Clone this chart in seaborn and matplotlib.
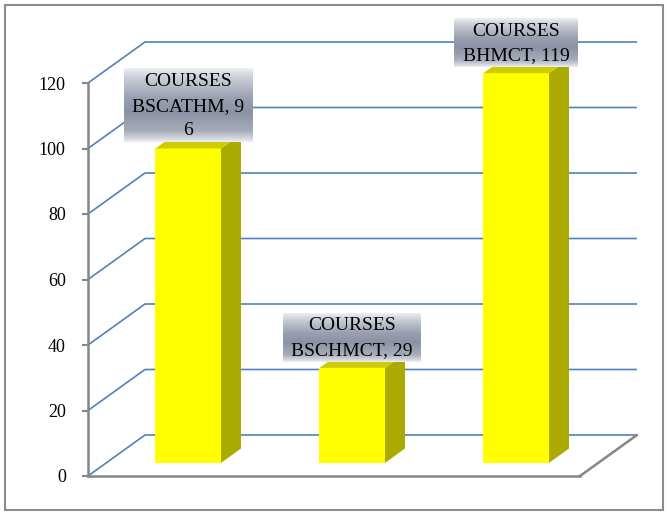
import numpy as np
import matplotlib
matplotlib.use("Agg")
import matplotlib.pyplot as plt
from matplotlib.patches import Polygon, Rectangle
from matplotlib.transforms import Affine2D
from matplotlib.colors import LinearSegmentedColormap
import seaborn as sns

# ---- data ----
categories = ["COURSES BSCATHM", "COURSES BSCHMCT", "COURSES BHMCT"]
values = [96, 29, 119]
yticks = [0, 20, 40, 60, 80, 100, 120]
# character position at which the second label line wraps (None = no wrap)
wrap_at = [10, None, None]

sns.set_theme(style="white")
plt.rcParams["font.family"] = ["Liberation Serif", "DejaVu Serif"]

W, H, DPI = 667, 513, 100
fig = plt.figure(figsize=(W / DPI, H / DPI), dpi=DPI)
fig.patch.set_facecolor("white")

# front plane of the 3-D box
left_px, right_px, bot_px, top_px = 88, 580, 476, 83
ax = fig.add_axes([left_px / W, 1 - bot_px / H,
                   (right_px - left_px) / W, (bot_px - top_px) / H])
ax.set_facecolor("none")

XMIN, XMAX, YMIN, YMAX = -0.5, 2.5, 0, 120
px_x = (right_px - left_px) / (XMAX - XMIN)   # pixels per x unit
px_y = (bot_px - top_px) / (YMAX - YMIN)      # pixels per y unit
DX = 57 / px_x                                # full depth vector (data units)
DY = 41 / px_y
F0 = 0.32                                     # bar front position in depth
DEPTH = 0.35                                  # bar depth fraction
BAR_W = 0.4

grid_c = "#4f81bd"
axis_c = "#868686"

# gridlines: left wall diagonals + back wall
for v in yticks:
    ax.plot([XMIN, XMIN + DX, XMAX + DX], [v, v + DY, v + DY],
            color=grid_c, lw=1.2, zorder=0.5, clip_on=False,
            solid_capstyle="butt")
# floor edge on the right
ax.plot([XMAX, XMAX + DX], [0, DY], color=axis_c, lw=1.8, zorder=0.6,
        clip_on=False)

# bars (front faces) through seaborn
sns.barplot(x=categories, y=values, color="#ffff00", saturation=1,
            width=BAR_W, linewidth=0, ax=ax, zorder=2)
shift = Affine2D().translate(F0 * DX, F0 * DY) + ax.transData
for p in ax.patches:
    p.set_transform(shift)
    p.set_clip_on(False)

# side and top faces
dx, dy = DEPTH * DX, DEPTH * DY
for i, v in enumerate(values):
    xl = i - BAR_W / 2 + F0 * DX
    xr = i + BAR_W / 2 + F0 * DX
    y0 = F0 * DY
    yt = v + F0 * DY
    side = Polygon([(xr, y0), (xr + dx, y0 + dy), (xr + dx, yt + dy), (xr, yt)],
                   closed=True, facecolor="#aaaa00", edgecolor="none",
                   zorder=2, clip_on=False)
    top = Polygon([(xl, yt), (xr, yt), (xr + dx, yt + dy), (xl + dx, yt + dy)],
                  closed=True, facecolor="#cccc00", edgecolor="none",
                  zorder=2, clip_on=False)
    ax.add_patch(side)
    ax.add_patch(top)

ax.set_xlim(XMIN, XMAX)
ax.set_ylim(YMIN, YMAX)
ax.set_xticks([])
ax.set_yticks(yticks)
ax.set_yticklabels([str(t) for t in yticks], fontsize=13, color="black")
ax.set_xlabel("")
ax.set_ylabel("")
ax.tick_params(axis="y", direction="out", length=4, width=1.5,
               colors=axis_c, labelcolor="black", pad=12, left=True)
for s in ["top", "right"]:
    ax.spines[s].set_visible(False)
for s in ["left", "bottom"]:
    ax.spines[s].set_color(axis_c)
    ax.spines[s].set_linewidth(1.8)

# data labels with silver gradient boxes
silver = LinearSegmentedColormap.from_list(
    "silver",
    [(0.0, "#eef0f3"), (0.12, "#cdd0d8"), (0.4, "#9aa0b0"),
     (0.6, "#8c92a3"), (0.85, "#a7acba"), (0.95, "#d2d5dc"), (1.0, "#eceef1")])
grad = np.linspace(0, 1, 128).reshape(-1, 1)

texts = []
for i, (cat, v) in enumerate(zip(categories, values)):
    head, name = cat.split(" ", 1)
    line2 = f"{name}, {v}"
    if wrap_at[i] is not None:
        line2 = line2[:wrap_at[i]] + "\n" + line2[wrap_at[i]:]
    label = f"{head}\n{line2}"
    cx = i + F0 * DX
    base = v + F0 * DY + 9 / px_y
    t = ax.text(cx, base, label, ha="center", va="bottom",
                multialignment="center", fontsize=14, color="black",
                linespacing=1.58, zorder=6, clip_on=False)
    texts.append(t)

fig.canvas.draw()
renderer = fig.canvas.get_renderer()
inv = ax.transData.inverted()
MIN_BOX_W = 124
for t in texts:
    bb = t.get_window_extent(renderer)
    half = max(bb.width + 16, MIN_BOX_W) / 2
    xc = (bb.x0 + bb.x1) / 2
    (x0, y0) = inv.transform((xc - half, bb.y0 - 3))
    (x1, y1) = inv.transform((xc + half, bb.y1 + 4))
    im = ax.imshow(grad, cmap=silver, extent=(x0, x1, y0, y1),
                   aspect="auto", origin="upper", zorder=5,
                   interpolation="bilinear")
    im.set_clip_on(False)

ax.set_xlim(XMIN, XMAX)
ax.set_ylim(YMIN, YMAX)

# outer chart border
fig.add_artist(Rectangle((5 / W, 3 / H), 658 / W, 505 / H,
                         transform=fig.transFigure, fill=False,
                         edgecolor="#8c8c8c", lw=1.5))

fig.savefig("out.png", dpi=DPI)
